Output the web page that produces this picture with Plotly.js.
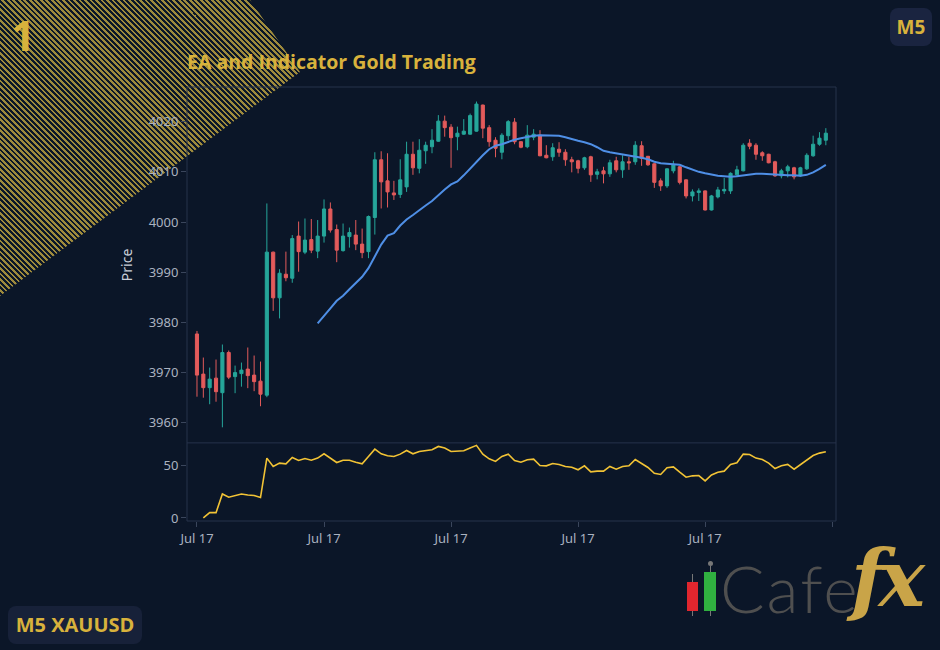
<!DOCTYPE html>
<html>
<head>
<meta charset="utf-8">
<script src="https://cdn.plot.ly/plotly-3.0.1.min.js"></script>
<style>
  html, body { margin:0; padding:0; background:#0b1628; width:940px; height:650px; overflow:hidden; }
  #wrap { position:relative; width:940px; height:650px; }
  #stripes { position:absolute; left:0; top:0; width:940px; height:650px; z-index:0;
    background: repeating-linear-gradient(45deg, #9e8a3c 0px, #9e8a3c 1.9px, #0b1628 1.9px, #0b1628 3.9px);
    clip-path: polygon(0px 0px, 250px 0px, 300px 72px, 0px 296px); }
  #chart { position:absolute; left:0; top:0; width:940px; height:650px; z-index:1; }
  .ov { position:absolute; z-index:2; font-family:'Open Sans','Noto Sans',sans-serif; }
  #one { left:11px; top:14px; font-size:42px; font-weight:700; color:#d8b23c; line-height:1; }
  #m5 { left:890px; top:8px; width:42px; height:38px; border-radius:8px; background:#1a2440;
    color:#d8b23c; font-weight:700; font-size:19px; line-height:38px; text-align:center; }
  #sym { left:8px; top:606px; width:134px; height:38px; border-radius:8px; background:#172139;
    color:#d8b23c; font-weight:700; font-size:20px; line-height:38px; text-align:center; }
  .bar { position:absolute; z-index:2; }
  #cafe { left:720px; top:555px; font-family:'Lato',sans-serif; font-size:66px; font-weight:300; color:#4f4f4f; line-height:1; letter-spacing:2px; }
  #fx { left:851px; top:540px; font-family:'DejaVu Serif',serif; font-style:italic; font-weight:700; font-size:78px; color:#c9a448; line-height:1; letter-spacing:-6px; }
</style>
</head>
<body>
<div id="wrap">
  <div id="stripes"></div>
  <div id="chart"></div>
  <div class="ov" id="one">1</div>
  <div class="ov" id="m5">M5</div>
  <div class="ov" id="sym">M5 XAUUSD</div>
  <div class="bar" style="left:692px;top:574px;width:1px;height:42px;background:#777;"></div>
  <div class="bar" style="left:687px;top:582px;width:11px;height:29px;background:#e0262e;"></div>
  <div class="bar" style="left:710px;top:566px;width:1px;height:50px;background:#777;"></div>
  <div class="bar" style="left:708px;top:561px;width:5px;height:5px;border-radius:3px;background:#777;"></div>
  <div class="bar" style="left:704px;top:572px;width:12px;height:39px;background:#30b040;"></div>
  <div class="ov" id="cafe">Cafe</div>
  <div class="ov" id="fx">fx</div>
</div>
<script>
// ---- data ----
const startTime = "2025-07-17 08:00:00";
const stepMinutes = 5;

const openP = [3977.7,3969.7,3967.0,3968.9,3966.0,3974.0,3969.2,3969.8,3970.7,3969.5,
3968.3,3965.5,3994.0,3984.9,3989.6,3988.8,3997.2,3994.0,3996.5,3994.2,
3997.2,4002.6,3998.5,3994.3,3997.1,3997.4,3995.6,3994.1,4000.9,4012.4,
4008.2,4005.8,4005.5,4007.0,4013.5,4010.7,4014.2,4015.0,4016.1,4020.1,
4018.9,4017.0,4017.5,4017.5,4018.1,4023.3,4018.8,4016.3,4013.9,4017.2,
4019.9,4016.0,4015.0,4016.9,4017.3,4013.3,4013.0,4014.5,4013.9,4012.4,
4012.2,4010.8,4013.0,4009.5,4010.2,4009.6,4012.2,4010.4,4012.0,4012.0,
4015.2,4013.1,4011.6,4008.2,4007.2,4010.2,4011.0,4008.4,4005.2,4005.9,
4006.2,4002.4,4005.0,4006.2,4006.2,4009.4,4010.2,4015.7,4015.3,4013.8,
4013.5,4012.0,4009.2,4010.2,4010.8,4009.2,4010.6,4013.2,4015.5,4016.3];

const highP = [3978.3,3973.0,3971.0,3972.6,3975.6,3974.4,3971.4,3972.0,3975.0,3973.4,
3972.2,4003.7,3994.1,3990.6,3994.1,3997.4,4000.1,4000.7,4000.6,4000.4,
4004.5,4003.9,3999.5,3999.7,3998.9,4000.4,3998.7,4001.3,4013.9,4014.1,
4013.7,4008.2,4012.5,4016.0,4016.0,4016.5,4016.0,4018.5,4021.3,4021.2,
4019.5,4019.0,4020.5,4021.6,4024.0,4023.4,4019.3,4016.9,4017.7,4020.3,
4020.7,4016.1,4019.3,4018.5,4018.3,4015.3,4015.7,4015.9,4014.5,4013.0,
4012.4,4013.0,4013.2,4010.6,4011.0,4012.4,4013.0,4013.3,4013.0,4016.1,
4016.1,4013.1,4011.7,4008.7,4010.7,4012.2,4011.2,4008.5,4006.5,4006.7,
4006.3,4005.4,4007.0,4008.8,4009.9,4011.2,4015.7,4016.5,4015.7,4014.1,
4013.6,4012.2,4010.6,4011.4,4011.0,4011.0,4013.7,4017.2,4017.9,4018.7];

const lowP = [3965.2,3965.0,3963.7,3964.2,3959.1,3968.7,3965.9,3967.2,3966.9,3966.3,
3963.3,3965.1,3982.3,3980.8,3988.2,3987.9,3990.1,3993.6,3993.8,3992.8,
3995.9,3997.9,3992.0,3994.1,3994.9,3994.4,3992.8,3992.8,3997.5,4002.7,
4002.9,4004.4,4004.8,4006.0,4009.4,4009.7,4011.6,4013.7,4016.0,4017.0,
4010.8,4014.3,4017.4,4017.4,4018.0,4016.7,4015.0,4012.9,4012.5,4016.3,
4015.5,4014.7,4014.7,4016.3,4013.1,4012.7,4012.2,4013.0,4011.2,4009.9,
4009.7,4010.4,4008.0,4008.5,4007.7,4009.0,4009.9,4008.8,4010.4,4011.4,
4011.2,4011.2,4006.8,4006.2,4006.8,4009.7,4007.5,4004.7,4004.1,4004.2,
4002.3,4002.3,4004.7,4005.6,4005.6,4009.0,4010.1,4014.5,4012.4,4012.2,
4011.7,4009.0,4008.7,4008.9,4008.5,4009.0,4010.4,4013.0,4015.2,4015.3];

const closeP = [3969.5,3967.0,3968.7,3966.2,3974.0,3969.1,3970.0,3970.5,3969.4,3968.2,
3965.7,3994.0,3984.9,3989.8,3988.9,3996.7,3994.1,3996.4,3994.4,3997.2,
4002.6,3998.4,3994.4,3997.2,3997.9,3995.6,3993.9,4001.1,4012.4,4008.0,
4006.0,4005.4,4008.4,4013.5,4010.8,4014.3,4015.3,4016.3,4020.1,4018.8,
4016.8,4017.7,4018.1,4021.2,4023.5,4018.7,4016.0,4014.7,4017.3,4020.0,
4016.0,4014.9,4017.3,4017.5,4013.2,4012.8,4014.8,4013.9,4012.4,4012.0,
4010.7,4012.8,4009.4,4010.0,4009.6,4011.8,4010.4,4012.0,4011.8,4015.3,
4012.7,4011.4,4007.9,4007.2,4010.6,4011.4,4007.9,4005.2,4006.0,4006.2,
4002.4,4005.2,4006.4,4006.5,4009.7,4010.4,4015.3,4015.1,4013.5,4013.2,
4011.8,4009.2,4010.2,4011.0,4009.0,4010.8,4013.3,4015.5,4016.7,4017.7];

// moving average line (starts at bar 19)
const maLine = [null,null,null,null,null,null,null,null,null,null,
null,null,null,null,null,null,null,null,null,3979.8,
3981.4,3982.8,3984.3,3985.3,3986.6,3987.8,3989.1,3990.8,3993.0,3995.5,
3997.3,3997.8,3999.3,4000.5,4001.4,4002.4,4003.3,4004.2,4005.4,4006.5,
4007.5,4008.1,4009.3,4010.7,4012.1,4013.3,4014.5,4015.2,4015.5,4016.0,
4016.4,4016.7,4017.0,4017.2,4017.3,4017.3,4017.3,4017.2,4016.9,4016.5,
4016.2,4015.9,4015.5,4014.9,4014.2,4013.9,4013.7,4013.5,4013.2,4013.0,
4012.8,4012.5,4012.0,4011.7,4011.6,4011.5,4011.4,4010.9,4010.4,4010.0,
4009.7,4009.4,4009.2,4009.1,4009.0,4009.1,4009.3,4009.5,4009.6,4009.6,
4009.5,4009.4,4009.4,4009.3,4009.3,4009.2,4009.4,4009.9,4010.6,4011.4];

// oscillator in lower panel
const oscLine = [null,0,5.1,5.1,23,19.9,21.5,23,22,21.5,
19.6,57.4,49.4,52.6,51.9,58,55.1,57,55.4,57.4,
61.5,57.4,53.2,55.4,55.4,53.5,51.9,59,66,61.5,
59.6,59,61.2,64.7,61.5,63.8,64.7,65.4,68.6,67,
63.8,64.4,64.4,67,69.6,61.2,56.7,54.2,59,61.2,
55.1,53.5,55.8,56.4,50.3,50,52.2,51.3,49.4,48.7,
46.2,50,44.2,44.9,44.9,49.4,46.8,49.4,50,56.1,
51.9,48.4,42.9,41.7,48.1,49,43.9,39.1,40.4,40.7,
35.6,41.3,43.9,44.9,51.3,52.9,61.2,60.9,57.4,56.1,
52.6,47.4,50,51.3,46.8,51.3,55.8,59.9,62.2,63.5];

const titleText = "EA and Indicator Gold Trading";
const priceTicks = [3960,3970,3980,3990,4000,4010,4020];
const oscTicks = [0,50];
const xTickBars = [0,20,40,60,80,100];
const xTickText = ["Jul 17","Jul 17","Jul 17","Jul 17","Jul 17",""];

// ---- build time axis ----
const t0 = new Date(startTime.replace(" ", "T") + "Z").getTime();
const fmt = ms => new Date(ms).toISOString().replace("T"," ").slice(0,19);
const times = closeP.map((_, i) => fmt(t0 + i * stepMinutes * 60000));
const stepMs = stepMinutes * 60000;
const xTickVals = xTickBars.map(b => fmt(t0 + b * stepMs));

const gold = "#d8b23c";
const tickCol = "#aab2c0";
const lineCol = "#26324a";

const traces = [
  { type:"candlestick", x:times, open:openP, high:highP, low:lowP, close:closeP,
    xaxis:"x", yaxis:"y", name:"XAUUSD", showlegend:false,
    increasing:{ line:{ color:"#26a69a", width:1 }, fillcolor:"#26a69a" },
    decreasing:{ line:{ color:"#e35b5b", width:1 }, fillcolor:"#e35b5b" },
    whiskerwidth:0 },
  { type:"scatter", mode:"lines", x:times, y:maLine, xaxis:"x", yaxis:"y",
    line:{ color:"#4f8fe6", width:2 }, showlegend:false, hoverinfo:"skip" },
  { type:"scatter", mode:"lines", x:times, y:oscLine, xaxis:"x", yaxis:"y2",
    line:{ color:"#f2c335", width:1.6 }, showlegend:false }
];

const layout = {
  width:940, height:650,
  paper_bgcolor:"rgba(0,0,0,0)", plot_bgcolor:"rgba(0,0,0,0)",
  margin:{ l:187, r:104, t:87, b:129 },
  font:{ family:"Noto Sans, Lato, sans-serif", color:tickCol, size:13 },
  title:{ text:titleText, x:0, xref:"paper", xanchor:"left", y:0.904, yref:"container", yanchor:"middle",
    font:{ family:"Open Sans, Noto Sans, sans-serif", size:19.5, color:gold, weight:700 } },
  xaxis:{ type:"date", anchor:"y2", domain:[0,1],
    range:[fmt(t0 - 1.57*stepMs), fmt(t0 + 100.6*stepMs)],
    tickmode:"array", tickvals:xTickVals, ticktext:xTickText,
    ticks:"outside", ticklen:5, tickcolor:"#3a465c", showgrid:false, zeroline:false,
    showline:false, rangeslider:{ visible:false }, tickfont:{ size:13, color:tickCol } },
  yaxis:{ domain:[0.18,1], range:[3956.0, 4026.9], tickvals:priceTicks,
    ticks:"outside", ticklen:5, tickcolor:"#3a465c", showgrid:false, zeroline:false,
    showline:false, tickfont:{ size:13, color:tickCol },
    title:{ text:"Price", font:{ size:14, color:"#c9ced8" }, standoff:12 } },
  yaxis2:{ domain:[0,0.18], range:[-2.9, 72], tickvals:oscTicks,
    ticks:"outside", ticklen:5, tickcolor:"#3a465c", showgrid:false, zeroline:false,
    showline:false, tickfont:{ size:13, color:tickCol } },
  shapes:[
    { type:"rect", xref:"paper", yref:"paper", x0:0, x1:1, y0:0, y1:1, line:{ color:lineCol, width:1 } },
    { type:"line", xref:"paper", yref:"paper", x0:0, x1:1, y0:0.18, y1:0.18, line:{ color:lineCol, width:1 } }
  ]
};

Plotly.newPlot("chart", traces, layout, { displayModeBar:false, staticPlot:true });
</script>
</body>
</html>
